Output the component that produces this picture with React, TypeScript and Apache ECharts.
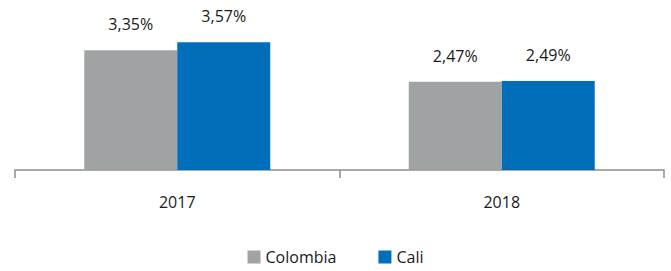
import React, { useEffect, useRef } from "react";
import * as echarts from "echarts";

const categories = ["2017", "2018"];
const colombia = [3.35, 2.47];
const cali = [3.57, 2.49];
const seriesNames = ["Colombia", "Cali"];

export default function App() {
  const ref = useRef<HTMLDivElement>(null);
  useEffect(() => {
    const chart = echarts.init(ref.current!, null, { renderer: "svg" });
    const font = "'Open Sans', 'Noto Sans', sans-serif";
    const label = {
      show: true,
      position: "top",
      distance: 18,
      fontSize: 16,
      color: "#1a1a1a",
      fontFamily: font,
      formatter: (p: any) => p.value.toFixed(2).replace(".", ",") + "%",
    };
    chart.setOption({
      animation: false,
      grid: { left: 15, right: 7, top: 27, height: 143 },
      legend: {
        bottom: 1,
        left: "center",
        itemWidth: 13,
        itemHeight: 13,
        itemGap: 42,
        icon: "rect",
        textStyle: { fontSize: 16, color: "#1a1a1a", fontFamily: font },
        data: seriesNames,
      },
      xAxis: {
        type: "category",
        data: categories,
        boundaryGap: true,
        axisLine: { show: true, lineStyle: { color: "#8c8c8c", width: 1.5 } },
        axisTick: { show: true, alignWithLabel: false, interval: 0, length: 8, lineStyle: { color: "#8c8c8c", width: 1.5 } },
        axisLabel: { fontSize: 16, color: "#1a1a1a", margin: 24, fontFamily: font },
      },
      yAxis: {
        type: "value",
        min: 0,
        max: 4,
        axisLine: { show: false },
        axisTick: { show: false },
        axisLabel: { show: false },
        splitLine: { show: false },
      },
      series: [
        {
          name: seriesNames[0],
          type: "bar",
          data: colombia,
          barWidth: 93,
          barGap: "0%",
          itemStyle: { color: "#A0A3A4" },
          label,
        },
        {
          name: seriesNames[1],
          type: "bar",
          data: cali,
          barWidth: 93,
          barGap: "0%",
          itemStyle: { color: "#006EB9" },
          label,
        },
      ],
    });
    return () => chart.dispose();
  }, []);
  return <div ref={ref} style={{ width: 671, height: 271, position: "absolute", left: 0, top: 0 }} />;
}
